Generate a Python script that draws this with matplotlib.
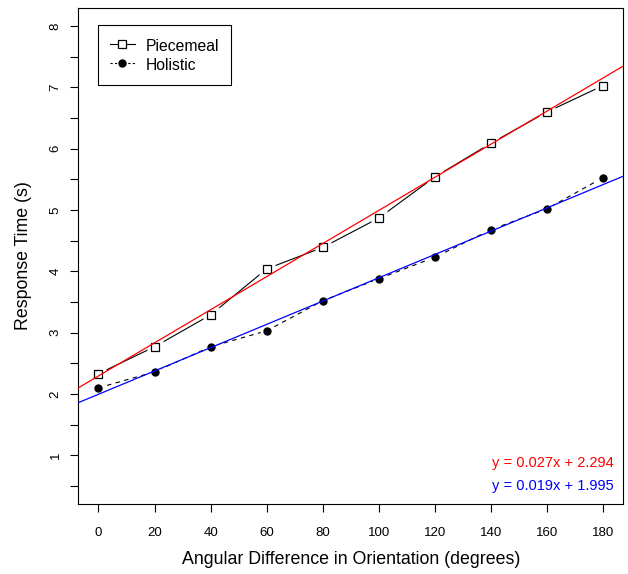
import matplotlib
matplotlib.use("Agg")
import matplotlib.pyplot as plt

plt.rcParams['font.family'] = ['Liberation Sans', 'DejaVu Sans']

angles = [0, 20, 40, 60, 80, 100, 120, 140, 160, 180]
piecemeal = [2.33, 2.77, 3.29, 4.04, 4.39, 4.87, 5.54, 6.09, 6.60, 7.03]
holistic = [2.10, 2.36, 2.77, 3.03, 3.52, 3.88, 4.23, 4.68, 5.02, 5.53]
fit_piece = (0.027, 2.294)
fit_holi = (0.019, 1.995)

fig = plt.figure(figsize=(6.28, 5.74), dpi=100)
ax = fig.add_axes([0.1247, 0.1214, 0.8678, 0.8652])

# type="b" look: line with gaps around points
ax.plot(angles, piecemeal, color='black', lw=0.8, zorder=2)
ax.plot(angles, holistic, color='black', lw=0.8, dashes=(4, 4), zorder=2)
ax.plot(angles, piecemeal, ls='none', marker='s', ms=11, mfc='white', mec='none', zorder=3)
ax.plot(angles, holistic, ls='none', marker='o', ms=10, mfc='white', mec='none', zorder=3)
ax.plot(angles, piecemeal, ls='none', marker='s', ms=6, mfc='white', mec='black', mew=0.9, zorder=4)
ax.plot(angles, holistic, ls='none', marker='o', ms=5, mfc='black', mec='black', zorder=4)

# fitted lines
ax.axline((0, fit_piece[1]), slope=fit_piece[0], color='red', lw=0.9, zorder=5)
ax.axline((0, fit_holi[1]), slope=fit_holi[0], color='blue', lw=0.9, zorder=5)

# legend handles
h1, = ax.plot([], [], color='black', lw=0.8, marker='s', ms=6, mfc='white', mec='black', mew=0.9)
h2, = ax.plot([], [], color='black', lw=0.8, dashes=(2, 2), marker='o', ms=5, mfc='black')
leg = ax.legend([h1, h2], ['Piecemeal', 'Holistic'], loc='upper left',
                bbox_to_anchor=(0.036, 0.965), borderaxespad=0, fontsize=11.3,
                handlelength=1.6, handletextpad=0.7, labelspacing=0.15,
                handleheight=1.3, borderpad=0.75, fancybox=False, framealpha=1,
                numpoints=1)
leg.get_frame().set_edgecolor('black')
leg.get_frame().set_linewidth(0.8)

ax.text(0.983, 0.083, 'y = %.3fx + %.3f' % fit_piece, color='red', fontsize=10.5,
        ha='right', va='center', transform=ax.transAxes)
ax.text(0.983, 0.036, 'y = %.3fx + %.3f' % fit_holi, color='blue', fontsize=10.5,
        ha='right', va='center', transform=ax.transAxes)

ax.set_xlim(-7.2, 187.2)
ax.set_ylim(0.2, 8.3)
ax.set_xticks(angles)
ax.set_yticks([1, 2, 3, 4, 5, 6, 7, 8])
ax.set_yticks([0.5, 1.5, 2.5, 3.5, 4.5, 5.5, 6.5, 7.5], minor=True)
ax.tick_params(axis='both', which='both', direction='out', length=6, width=0.8, labelsize=9.5)
ax.tick_params(axis='x', pad=10)
ax.tick_params(axis='y', pad=6)
for lab in ax.get_yticklabels():
    lab.set_rotation(90)
    lab.set_va('center')
for s in ax.spines.values():
    s.set_linewidth(0.8)

ax.set_xlabel('Angular Difference in Orientation (degrees)', fontsize=12.8, labelpad=9)
ax.set_ylabel('Response Time (s)', fontsize=12.8, labelpad=13)

fig.savefig('out.png', dpi=100)
